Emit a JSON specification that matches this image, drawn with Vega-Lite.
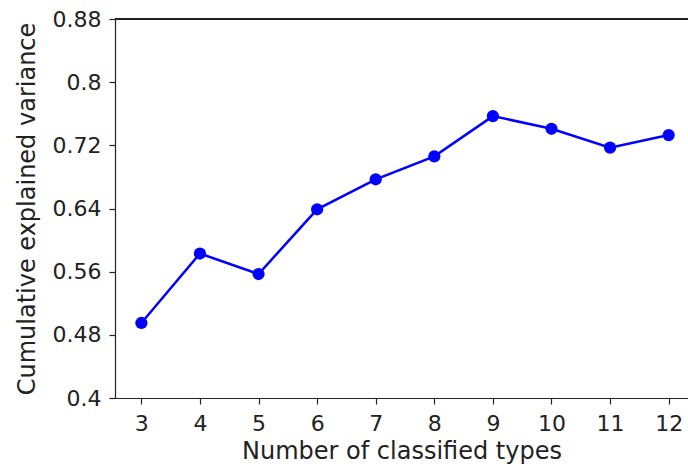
{
  "$schema": "https://vega.github.io/schema/vega-lite/v6.json",
  "width": 573,
  "height": 379,
  "autosize": {"type": "none"},
  "padding": {"left": 115, "top": 19, "right": 0, "bottom": 68},
  "background": "white",
  "config": {
    "view": {"stroke": null},
    "font": "DejaVu Sans",
    "axis": {
      "labelFont": "DejaVu Sans",
      "titleFont": "DejaVu Sans",
      "labelFontSize": 22,
      "titleFontSize": 24,
      "labelColor": "#222",
      "titleColor": "#222",
      "titleFontWeight": "normal",
      "domainColor": "#222",
      "tickColor": "#222",
      "domainWidth": 1.2,
      "tickWidth": 1.2,
      "tickSize": 6,
      "grid": false
    }
  },
  "data": {
    "values": [
      {"types": 3, "variance": 0.495},
      {"types": 4, "variance": 0.583},
      {"types": 5, "variance": 0.557},
      {"types": 6, "variance": 0.639},
      {"types": 7, "variance": 0.677},
      {"types": 8, "variance": 0.706},
      {"types": 9, "variance": 0.757},
      {"types": 10, "variance": 0.741},
      {"types": 11, "variance": 0.717},
      {"types": 12, "variance": 0.733}
    ]
  },
  "layer": [
    {
      "mark": {"type": "rule", "color": "#222", "strokeWidth": 1.2},
      "encoding": {"y": {"datum": 0.88, "type": "quantitative"}}
    },
    {
      "mark": {"type": "line", "color": "#0000ff", "strokeWidth": 2.5, "point": {"filled": true, "size": 150, "color": "#0000ff", "opacity": 1}},
      "encoding": {
        "x": {
          "field": "types",
          "type": "quantitative",
          "scale": {"domain": [2.55, 12.33], "nice": false, "zero": false},
          "axis": {"values": [3,4,5,6,7,8,9,10,11,12], "title": "Number of classified types", "labelPadding": 9, "titlePadding": 5, "format": "d"}
        },
        "y": {
          "field": "variance",
          "type": "quantitative",
          "scale": {"domain": [0.4, 0.88], "nice": false, "zero": false},
          "axis": {"values": [0.4, 0.48, 0.56, 0.64, 0.72, 0.8, 0.88], "format": "~g", "title": "Cumulative explained variance", "labelPadding": 8, "titlePadding": 13}
        }
      }
    }
  ]
}
